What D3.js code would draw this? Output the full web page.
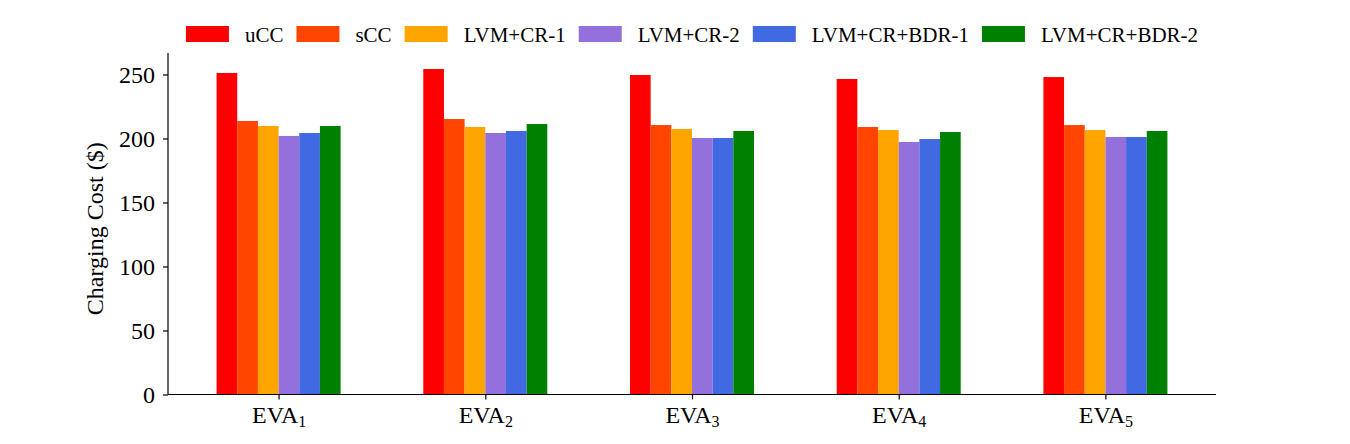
<!DOCTYPE html>
<html>
<head>
<meta charset="utf-8">
<script src="https://cdn.jsdelivr.net/npm/d3@7"></script>
<style>
  body { margin: 0; background: #fff; }
  svg text { font-family: "Liberation Serif", "Times New Roman", serif; fill: #000; }
</style>
</head>
<body>
<svg id="chart" width="1350" height="444"></svg>
<script>
// categories + series
const groups = ["1", "2", "3", "4", "5"];
const series = ["uCC", "sCC", "LVM+CR-1", "LVM+CR-2", "LVM+CR+BDR-1", "LVM+CR+BDR-2"];
const colors = ["#ff0000", "#ff4500", "#ffa500", "#9370db", "#4169e1", "#008000"];

// values (rows = series, cols = EVA1..EVA5)
const uCC      = [251.2, 254.3, 249.6, 246.5, 248.0];
const sCC      = [213.7, 215.2, 210.5, 209.0, 210.5];
const lvmCR1   = [209.8, 209.0, 207.4, 206.6, 206.6];
const lvmCR2   = [202.0, 204.3, 200.4, 197.3, 201.2];
const lvmBDR1  = [204.3, 205.9, 200.4, 199.6, 201.2];
const lvmBDR2  = [209.8, 211.3, 205.9, 205.1, 205.9];
const values = [uCC, sCC, lvmCR1, lvmCR2, lvmBDR1, lvmBDR2];

const yTicks = [0, 50, 100, 150, 200, 250];

const svg = d3.select("#chart"),
      margin = {top: 53, right: 134, bottom: 49.5, left: 168},
      width = +svg.attr("width") - margin.left - margin.right,
      height = +svg.attr("height") - margin.top - margin.bottom;

const serif = '"Liberation Serif", "Times New Roman", serif';

const g = svg.append("g")
  .attr("transform", `translate(${margin.left},${margin.top})`);

const barW = 0.1;
const x = d3.scaleLinear().domain([-0.535, 4.535]).range([0, width]);
const y = d3.scaleLinear().domain([0, 266.8]).range([height, 0]);

// bars
values.forEach((vals, si) => {
  g.selectAll("rect.s" + si)
    .data(vals)
    .enter().append("rect")
      .attr("class", "s" + si)
      .attr("x", (d, i) => x(i + (si - 2.5) * barW - barW / 2))
      .attr("width", x(barW) - x(0))
      .attr("y", d => y(d))
      .attr("height", d => height - y(d))
      .attr("fill", colors[si]);
});

// y axis
const yAxis = g.append("g")
  .call(d3.axisLeft(y).tickValues(yTicks).tickSize(5).tickPadding(8))
  .attr("font-family", serif).attr("font-size", 24);
yAxis.selectAll("line, path").attr("stroke", "#000").attr("stroke-width", 1.2);
yAxis.select("path").attr("d", `M0,${height}V0`);

// x axis
const xAxis = g.append("g")
  .attr("transform", `translate(0,${height})`)
  .call(d3.axisBottom(x).tickValues(d3.range(groups.length)).tickSize(5).tickPadding(6).tickFormat(""))
  .attr("font-family", serif).attr("font-size", 24);
xAxis.selectAll("line, path").attr("stroke", "#000").attr("stroke-width", 1.2);
xAxis.select("path").attr("d", `M0,0H${width}`);
xAxis.selectAll(".tick text")
  .each(function(d) {
    const t = d3.select(this);
    t.text(null);
    t.append("tspan").text("EVA");
    t.append("tspan").attr("dy", "0.3em").attr("font-size", 16).text(groups[d]);
  });

// y label
svg.append("text")
  .attr("transform", `translate(103,${margin.top + height / 2 + 5}) rotate(-90)`)
  .attr("text-anchor", "middle")
  .style("font-size", "24px")
  .text("Charging Cost ($)");

// legend
const leg = svg.append("g");
let lx = 0;
series.forEach((s, i) => {
  const item = leg.append("g").attr("transform", `translate(${lx},0)`);
  item.append("rect").attr("x", 0).attr("y", -8).attr("width", 43).attr("height", 16).attr("fill", colors[i]);
  const t = item.append("text").attr("x", 59).attr("y", 7.5).style("font-size", "21px").text(s);
  lx += 59 + t.node().getComputedTextLength() + 13;
});
const legW = lx - 13;
leg.attr("transform", `translate(${margin.left + width / 2 - legW / 2},34)`);
</script>
</body>
</html>
